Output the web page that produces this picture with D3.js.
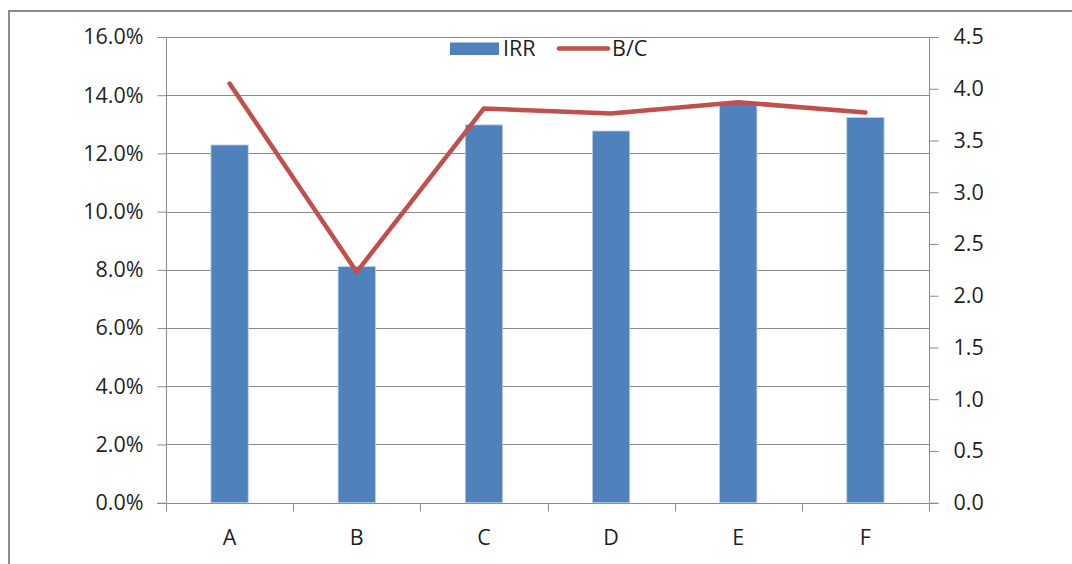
<!DOCTYPE html>
<html>
<head>
<meta charset="utf-8">
<script src="https://cdn.jsdelivr.net/npm/d3@7/dist/d3.min.js"></script>
<style>
  html, body { margin: 0; padding: 0; background: #fff; }
  svg { display: block; }
  text { font-family: "Open Sans", "Noto Sans", sans-serif; fill: #1f1f1f; }
</style>
</head>
<body>
<svg id="chart" width="1072" height="564"></svg>
<script>
// Projects and their indicators
const categories = ["A", "B", "C", "D", "E", "F"];
const irrValues = [0.1229, 0.0811, 0.1298, 0.1277, 0.1372, 0.1323];
const bcValues = [4.05, 2.23, 3.81, 3.76, 3.87, 3.77];

// Axis ticks
const leftTicks = [0, 0.02, 0.04, 0.06, 0.08, 0.10, 0.12, 0.14, 0.16];
const rightTicks = [0, 0.5, 1.0, 1.5, 2.0, 2.5, 3.0, 3.5, 4.0, 4.5];

const svg = d3.select("#chart");
const W = 1072, H = 564;
const plot = { left: 166, right: 929, top: 37, bottom: 502.7 };
const gridColor = "#8a8a8a";
const fontSize = "21.5px";

// Outer frame of the chart area (runs off the right and bottom edges)
svg.append("path")
  .attr("d", `M9,${H + 5}V11H${W + 5}`)
  .attr("fill", "none")
  .attr("stroke", "#8c8c8c")
  .attr("stroke-width", 2);

const x = d3.scaleBand().domain(categories).range([plot.left, plot.right]).padding(0);
const yL = d3.scaleLinear().domain([0, 0.16]).range([plot.bottom, plot.top]);
const yR = d3.scaleLinear().domain([0, 4.5]).range([plot.bottom, plot.top]);

// Horizontal gridlines from the left axis
svg.append("g").selectAll("line")
  .data(leftTicks.filter(d => d > 0))
  .join("line")
  .attr("x1", plot.left).attr("x2", plot.right)
  .attr("y1", d => Math.round(yL(d)) + 0.5).attr("y2", d => Math.round(yL(d)) + 0.5)
  .attr("stroke", gridColor).attr("stroke-width", 1);

// Left axis
const leftAxis = svg.append("g")
  .attr("transform", `translate(${plot.left + 0.5},0)`)
  .call(d3.axisLeft(yL).tickValues(leftTicks).tickFormat(d3.format(".1%")).tickSize(9).tickPadding(14));

// Right axis
const rightAxis = svg.append("g")
  .attr("transform", `translate(${plot.right + 0.5},0)`)
  .call(d3.axisRight(yR).tickValues(rightTicks).tickFormat(d3.format(".1f")).tickSize(9).tickPadding(15));

// Category axis with ticks at band boundaries
const bottomAxis = svg.append("g")
  .attr("transform", `translate(0,${Math.round(plot.bottom) + 0.5})`);
bottomAxis.append("line")
  .attr("x1", plot.left - 9).attr("x2", plot.right + 9)
  .attr("stroke", gridColor);
bottomAxis.selectAll("line.tick")
  .data(categories.map(c => x(c)).concat([plot.right]))
  .join("line").attr("class", "tick")
  .attr("x1", d => Math.round(d) + 0.5).attr("x2", d => Math.round(d) + 0.5)
  .attr("y1", 0).attr("y2", 8)
  .attr("stroke", gridColor);
bottomAxis.selectAll("text")
  .data(categories)
  .join("text")
  .attr("x", d => x(d) + x.bandwidth() / 2)
  .attr("y", 41)
  .attr("text-anchor", "middle")
  .style("font-size", fontSize)
  .text(d => d);

[leftAxis, rightAxis].forEach(g => {
  g.select(".domain").remove();
  g.selectAll(".tick line").attr("stroke", gridColor);
  g.selectAll(".tick text").style("font-size", fontSize).attr("fill", "#1f1f1f");
});
svg.append("line")
  .attr("x1", plot.left + 0.5).attr("x2", plot.left + 0.5)
  .attr("y1", plot.top).attr("y2", plot.bottom)
  .attr("stroke", gridColor);
svg.append("line")
  .attr("x1", plot.right + 0.5).attr("x2", plot.right + 0.5)
  .attr("y1", plot.top).attr("y2", plot.bottom)
  .attr("stroke", gridColor);

// IRR bars
const barW = x.bandwidth() * 0.293;
svg.append("g").selectAll("rect")
  .data(categories.map((c, i) => ({ c, v: irrValues[i] })))
  .join("rect")
  .attr("x", d => x(d.c) + x.bandwidth() / 2 - barW / 2)
  .attr("y", d => yL(d.v))
  .attr("width", barW)
  .attr("height", d => yL(0) - yL(d.v))
  .attr("fill", "#4F81BD")
  .attr("stroke", "#b8cce4")
  .attr("stroke-width", 0.8);

// B/C line
const line = d3.line()
  .x((d, i) => x(categories[i]) + x.bandwidth() / 2)
  .y(d => yR(d));
svg.append("path")
  .datum(bcValues)
  .attr("d", line)
  .attr("fill", "none")
  .attr("stroke", "#C0504D")
  .attr("stroke-width", 4.5)
  .attr("stroke-linejoin", "round")
  .attr("stroke-linecap", "round");

// Legend
const legend = svg.append("g");
legend.append("rect")
  .attr("x", 450).attr("y", 42.5).attr("width", 49).attr("height", 12.5)
  .attr("fill", "#4F81BD");
legend.append("text")
  .attr("x", 503).attr("y", 56)
  .style("font-size", fontSize)
  .text("IRR");
legend.append("line")
  .attr("x1", 559).attr("x2", 608).attr("y1", 48.5).attr("y2", 48.5)
  .attr("stroke", "#C0504D").attr("stroke-width", 4.5).attr("stroke-linecap", "round");
legend.append("text")
  .attr("x", 612).attr("y", 56)
  .style("font-size", fontSize)
  .text("B/C");
</script>
</body>
</html>
